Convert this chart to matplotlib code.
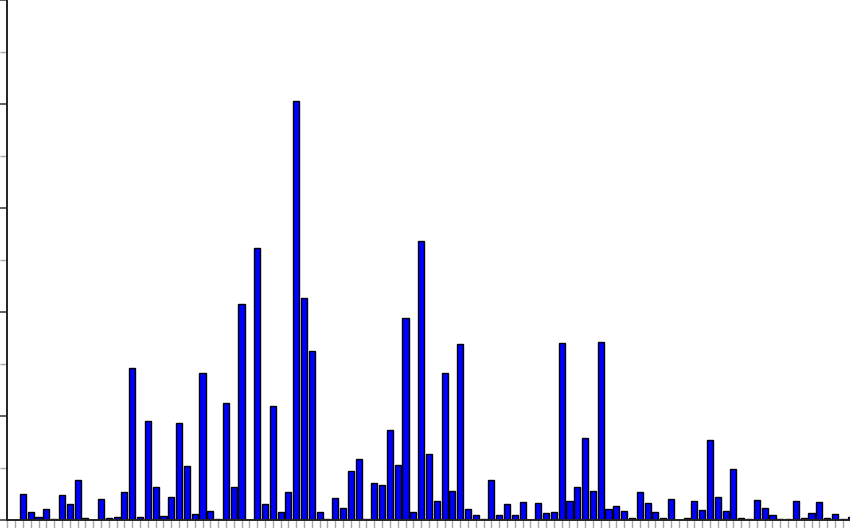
import matplotlib
matplotlib.use("Agg")
import matplotlib.pyplot as plt
from matplotlib.ticker import MultipleLocator

# bar heights, one per position (1 unit = one minor y tick)
heights = [
    0.00, 0.50, 0.15, 0.06, 0.22, 0.02, 0.48, 0.31, 0.76, 0.04,
    0.00, 0.41, 0.04, 0.05, 0.53, 2.92, 0.05, 1.90, 0.63, 0.07,
    0.44, 1.87, 1.03, 0.12, 2.83, 0.18, 0.01, 2.25, 0.63, 4.15,
    0.00, 5.23, 0.31, 2.19, 0.16, 0.53, 8.06, 4.27, 3.25, 0.16,
    0.01, 0.42, 0.23, 0.94, 1.17, 0.02, 0.71, 0.68, 1.73, 1.06,
    3.88, 0.15, 5.37, 1.27, 0.37, 2.83, 0.56, 3.38, 0.21, 0.10,
    0.02, 0.76, 0.09, 0.31, 0.10, 0.34, 0.00, 0.33, 0.13, 0.16,
    3.40, 0.37, 0.63, 1.58, 0.56, 3.42, 0.21, 0.26, 0.17, 0.04,
    0.53, 0.32, 0.16, 0.04, 0.40, 0.00, 0.04, 0.37, 0.20, 1.54,
    0.45, 0.17, 0.99, 0.04, 0.02, 0.38, 0.23, 0.10, 0.02, 0.02,
    0.36, 0.04, 0.14, 0.35, 0.04, 0.12, 0.02, 0.05,
]
positions = list(range(len(heights)))

fig = plt.figure(figsize=(8.5, 5.28), dpi=100)
# the picture is a crop: axes runs past the right edge of the figure
ax = fig.add_axes([7.3 / 850, 8 / 528, 111 * 7.808 / 850, 520 / 528])

ax.bar(positions, heights, width=0.78, color="#0000ff",
       edgecolor="black", linewidth=1.0, align="center")

ax.set_xlim(-1, 110)
ax.set_ylim(0, 10)

ax.spines["top"].set_visible(False)
ax.spines["right"].set_visible(False)
ax.spines["left"].set_linewidth(1.4)
ax.spines["bottom"].set_linewidth(1.4)
ax.spines["left"].set_color("#222222")
ax.spines["bottom"].set_color("#222222")

ax.set_xticks(range(-1, 111))
ax.yaxis.set_major_locator(MultipleLocator(2))
ax.yaxis.set_minor_locator(MultipleLocator(1))
ax.tick_params(axis="x", direction="out", length=7, width=1,
               color="#aaaaaa", labelbottom=False)
ax.tick_params(axis="y", which="major", direction="out", length=7,
               width=1.2, color="#444444", labelleft=False)
ax.tick_params(axis="y", which="minor", direction="out", length=5,
               width=1, color="#aaaaaa")

fig.savefig("out.png", dpi=100)
